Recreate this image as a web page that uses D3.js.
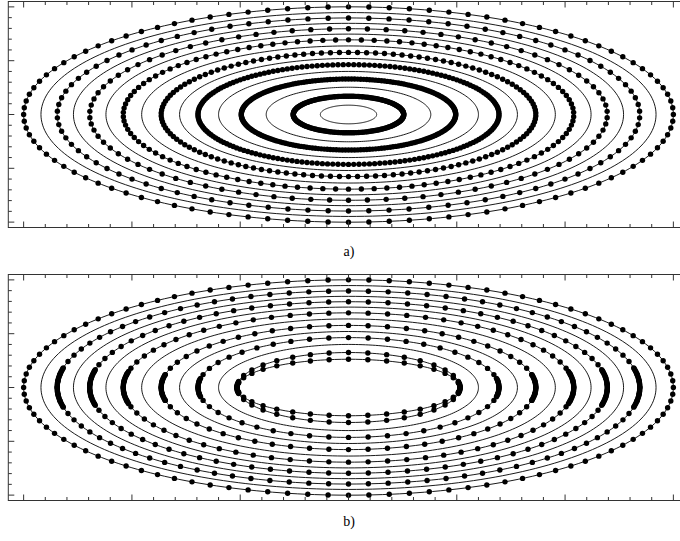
<!DOCTYPE html>
<html><head><meta charset="utf-8">
<script src="https://cdn.jsdelivr.net/npm/d3@7"></script>
<style>body{margin:0;background:#fff}svg{display:block}</style>
</head><body>
<svg id="c" width="680" height="541"></svg>
<script>
// ---- data ----
// contour semi-major axes (x units); semi-minor axis = minorRatio * semi-major (y units)
const contourA = [3.00, 2.84, 2.69, 2.54, 2.39, 2.24, 2.08, 1.91, 1.73, 1.56, 1.39, 1.20, 0.99, 0.76, 0.51, 0.26];
const minorRatio = 0.667;
// panel a: which contours carry dots, and dots per revolution
const dottedRingsA = [0, 2, 4, 6, 8, 10, 12, 14];
const dotCountA   = [100, 90, 86, 110, 130, 180, 220, 200];
// panel b: contours drawn, dotted ones, dots per revolution, half-height of the dense tip cluster (y units)
const lineRingsB   = [0,1,2,3,4,5,6,7,8,9,10,11];
const dottedRingsB = [0, 2, 4, 6, 8, 10];
const dotCountB    = [100, 92, 82, 72, 60, 48];
const tipClusterB  = [0.0, 0.35, 0.33, 0.30, 0.24, 0.17];
// panel b: inner pair of dotted curves meeting at the tips
const pairSemiX = [1.03, 1.03];
const pairSemiY = [0.65, 0.525];
const pairCount = [36, 36];
const pairCluster = [0.09, 0.09];
// axes
const xMajorTicks = [-3, -2, -1, 0, 1, 2, 3];
const yMajorTicks = [-2, -1, 0, 1, 2];
const panelLabels = ["a)", "b)"];

// ---- drawing ----
const svg = d3.select("#c");
const x = d3.scaleLinear().domain([-Math.PI, Math.PI]).range([8.3, 688.7]);
const panels = [
  {y: d3.scaleLinear().domain([-2.1, 2.1]).range([227.5, 1.5]), label: panelLabels[0], ly: 256},
  {y: d3.scaleLinear().domain([-2.1, 2.1]).range([500.5, 274.5]), label: panelLabels[1], ly: 526}
];

function ellipsePts(ax, by, n) {
  return d3.range(n + 1).map(i => { const t = 2 * Math.PI * i / n; return [ax * Math.cos(t), by * Math.sin(t)]; });
}
function dotPts(ax, by, n) {
  return d3.range(n).map(i => { const t = 2 * Math.PI * i / n + Math.PI / 2; return [ax * Math.cos(t), by * Math.sin(t)]; });
}
// dense run of dots along the ellipse near both tips, |y| < yc
function clusterPts(ax, by, yc, y) {
  if (!yc) return [];
  const tc = Math.asin(Math.min(1, yc / by));
  const pxLen = 2 * tc * Math.abs(y(by) - y(0));
  const n = Math.max(2, Math.ceil(pxLen / 1.3));
  const out = [];
  d3.range(n + 1).forEach(i => {
    const t = -tc + 2 * tc * i / n;
    out.push([ax * Math.cos(t), by * Math.sin(t)]);
    out.push([-ax * Math.cos(t), by * Math.sin(t)]);
  });
  return out;
}

function drawFrame(g, y) {
  const [x0, x1] = x.range(), [y0, y1] = y.range();
  const minorX = d3.range(-30, 31, 2).map(v => v / 10).filter(v => !xMajorTicks.includes(v));
  const minorY = d3.range(-20, 21, 2).map(v => v / 10).filter(v => !yMajorTicks.includes(v));
  const fg = g.append("g").attr("stroke", "#333").attr("stroke-width", 1).attr("fill", "none");
  fg.append("rect").attr("x", x0).attr("y", y1).attr("width", x1 - x0).attr("height", y0 - y1);
  const tk = (vals, len, isX) => vals.forEach(v => {
    if (isX) {
      const px = x(v);
      fg.append("line").attr("x1", px).attr("x2", px).attr("y1", y0).attr("y2", y0 - len);
      fg.append("line").attr("x1", px).attr("x2", px).attr("y1", y1).attr("y2", y1 + len);
    } else {
      const py = y(v);
      fg.append("line").attr("y1", py).attr("y2", py).attr("x1", x0).attr("x2", x0 + len);
      fg.append("line").attr("y1", py).attr("y2", py).attr("x1", x1).attr("x2", x1 - len);
    }
  });
  tk(minorX, 3.5, true); tk(xMajorTicks, 6, true);
  tk(minorY, 3.5, false); tk(yMajorTicks, 6, false);
}

const line = (y) => d3.line().x(d => x(d[0])).y(d => y(d[1]));

panels.forEach((p, pi) => {
  const g = svg.append("g");
  const ln = line(p.y);
  const rings = pi === 0 ? contourA.map((_, i) => i) : lineRingsB;
  rings.forEach(i => {
    g.append("path").attr("d", ln(ellipsePts(contourA[i], contourA[i] * minorRatio, 240)))
      .attr("fill", "none").attr("stroke", "#000").attr("stroke-width", 0.9);
  });
  let dots = [];
  if (pi === 0) {
    dottedRingsA.forEach((ri, k) => { dots = dots.concat(dotPts(contourA[ri], contourA[ri] * minorRatio, dotCountA[k])); });
  } else {
    dottedRingsB.forEach((ri, k) => {
      const ax = contourA[ri], by = contourA[ri] * minorRatio;
      dots = dots.concat(dotPts(ax, by, dotCountB[k]), clusterPts(ax, by, tipClusterB[k], p.y));
    });
    pairSemiX.forEach((ax, k) => {
      g.append("path").attr("d", ln(ellipsePts(ax, pairSemiY[k], 200))).attr("fill", "none").attr("stroke", "#000").attr("stroke-width", 0.9);
      dots = dots.concat(dotPts(ax, pairSemiY[k], pairCount[k]), clusterPts(ax, pairSemiY[k], pairCluster[k], p.y));
    });
  }
  g.selectAll("circle").data(dots).join("circle")
    .attr("cx", d => x(d[0])).attr("cy", d => p.y(d[1])).attr("r", 2.7).attr("fill", "#000");
  drawFrame(g, p.y);
  svg.append("text").attr("x", 349).attr("y", p.ly).attr("text-anchor", "middle")
    .attr("font-family", "'Liberation Serif', serif").attr("font-size", 14).text(p.label);
});
</script>
</body></html>
